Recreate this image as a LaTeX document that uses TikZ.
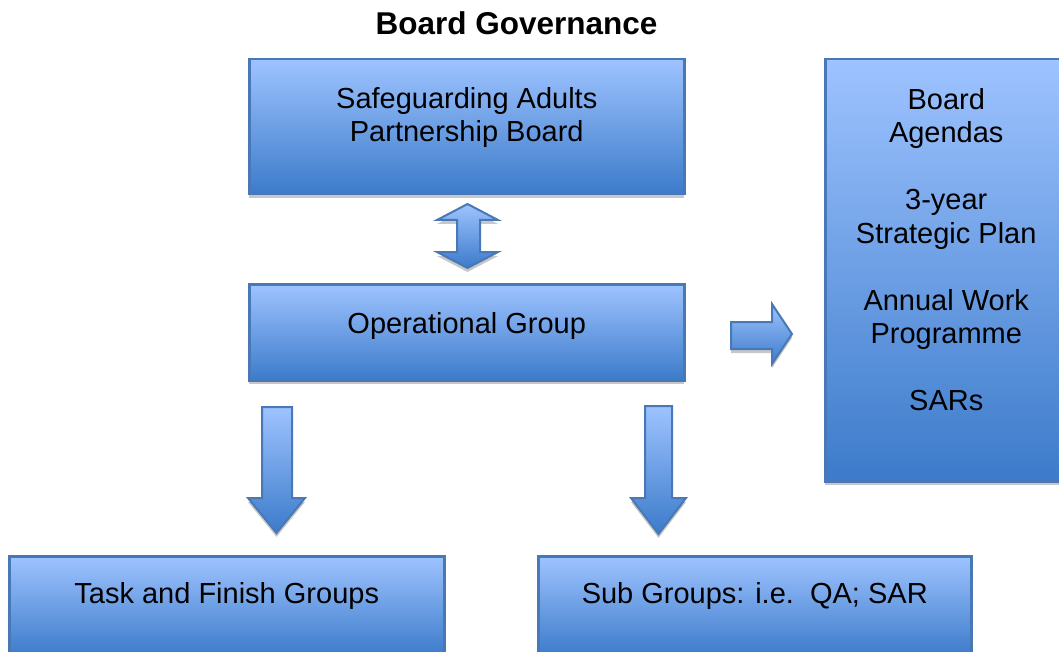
\documentclass[tikz,border=0pt]{standalone}
\usepackage{fontspec}
\setmainfont{Liberation Sans}
\usetikzlibrary{shadows,positioning}
\definecolor{boxtop}{HTML}{9EC3FF}
\definecolor{boxbot}{HTML}{3C7BCA}
\definecolor{boxline}{HTML}{4878B6}

\begin{document}
\begin{tikzpicture}[x=1pt,y=-1pt]
  \tikzstyle{shade}=[top color=boxtop,bottom color=boxbot,
                     drop shadow={shadow xshift=0pt,shadow yshift=-4pt,fill=black!22,opacity=1}]
  \tikzstyle{box}=[rectangle,shade,draw=boxline,line width=2.5pt,anchor=north west,inner sep=0pt]
  \tikzstyle{barrow}=[shade,draw=boxline,line width=2pt,line join=miter]
  \tikzstyle{txt}=[font=\fontsize{29}{33.5}\selectfont,align=center,inner sep=0pt,anchor=north]

  \useasboundingbox (0,0) rectangle (1059,652);

  \node[font=\fontsize{31.5}{36}\selectfont\bfseries,anchor=base] (title) at (516.5,35) {Board Governance};

  % boxes
  \node[box,minimum width=435pt,minimum height=135pt] (board) at (248,58) {};
  \node[box,minimum width=435pt,minimum height=96pt]  (ops)   at (248,283) {};
  \node[box,minimum width=242pt,minimum height=422pt] (docs)  at (824,58) {};
  \node[box,minimum width=435pt,minimum height=100pt] (task)  at (8,555) {};
  \node[box,minimum width=433pt,minimum height=100pt] (sub)   at (537,555) {};

  \node[txt,below=29pt of board.north] {Safeguarding Adults\\Partnership Board};
  \node[txt,below=29pt of ops.north]   {Operational Group};
  \node[txt,below=27pt of task.north]  {Task and Finish Groups};
  \node[txt,below=27pt of sub.north]   {Sub Groups: i.e.\ \ QA; SAR};
  \node[txt,below=30pt of docs.north]  {Board\\Agendas\\[33.5pt]3-year\\Strategic Plan\\[33.5pt]%
                                        Annual Work\\Programme\\[33.5pt]SARs};

  % block arrows
  \draw[barrow] (467.5,204) -- (498,220) -- (480,220) -- (480,252) -- (498,252) -- (467.5,268)
    -- (437,252) -- (457,252) -- (457,220) -- (437,220) -- cycle;
  \draw[barrow] (731,322) -- (772,322) -- (772,304) -- (792,334) -- (772,364) -- (772,349)
    -- (731,349) -- cycle;
  \draw[barrow] (262,407) -- (292,407) -- (292,498) -- (305,498) -- (276.5,533) -- (248,498)
    -- (262,498) -- cycle;
  \draw[barrow] (645,406) -- (672,406) -- (672,498) -- (686,498) -- (658.5,534) -- (631,498)
    -- (645,498) -- cycle;
\end{tikzpicture}
\end{document}
